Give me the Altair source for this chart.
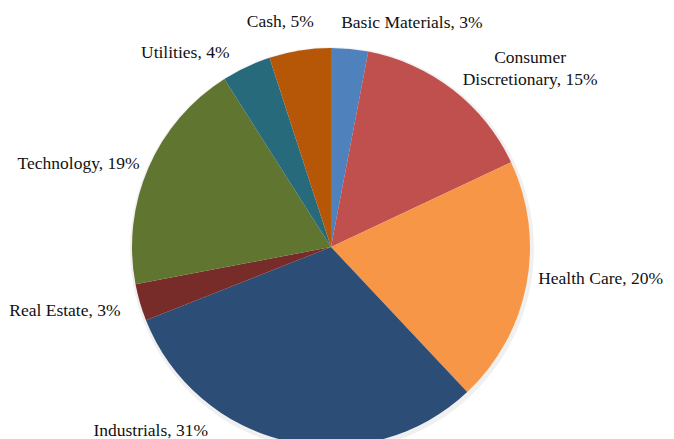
import altair as alt
import pandas as pd

categories = ["Basic Materials", "Consumer Discretionary", "Health Care", "Industrials",
              "Real Estate", "Technology", "Utilities", "Cash"]
values = [3, 15, 20, 31, 3, 19, 4, 5]
labels = ["Basic Materials, 3%", "Consumer\nDiscretionary, 15%", "Health Care, 20%",
          "Industrials, 31%", "Real Estate, 3%", "Technology, 19%", "Utilities, 4%", "Cash, 5%"]
colors = ["#4F81BD", "#C0504D", "#F79646", "#2C4D75", "#772C2A", "#5F7530", "#276A7C", "#B65708"]

df = pd.DataFrame({"cat": categories, "value": values, "label": labels,
                   "idx": list(range(len(categories)))})

CX, CY, R = 323, 239, 199
FONT = "Liberation Serif"

base = alt.Chart(df).encode(
    theta=alt.Theta("value:Q", stack=True),
    order=alt.Order("idx:Q"),
)

shadow = alt.Chart(df).mark_arc(radius=R + 3, color="#000000", opacity=0.06).encode(
    theta=alt.Theta("value:Q", stack=True),
    x=alt.value(CX + 1), y=alt.value(CY + 2),
)

pie = base.mark_arc(radius=R).encode(
    color=alt.Color("cat:N", scale=alt.Scale(domain=categories, range=colors), legend=None),
    x=alt.value(CX), y=alt.value(CY),
)

# label placement: (align, radius, dx, dy)
place = {
    "Basic Materials": ("left", 225, -11, 0),
    "Consumer Discretionary": ("center", 240, 52, 1),
    "Health Care": ("left", 215, -4, -8),
    "Industrials": ("right", 215, -76, -26),
    "Real Estate": ("right", 215, -4, 4),
    "Technology": ("right", 215, 6, 2),
    "Utilities": ("right", 215, -10, 1),
    "Cash": ("right", 225, 18, -3),
}

layers = [shadow, pie]
for cat, (align, rad, dx, dy) in place.items():
    layers.append(
        base.mark_text(radius=rad, align=align, baseline="middle", dx=dx, dy=dy,
                       font=FONT, fontSize=17.5, color="#111111", lineBreak="\n",
                       lineHeight=22).encode(
            text=alt.condition(alt.datum.cat == cat, alt.Text("label:N"), alt.value("")),
            x=alt.value(CX), y=alt.value(CY),
        )
    )

chart = alt.layer(*layers).properties(
    width=658, height=431, padding=0, autosize=alt.AutoSizeParams(type="none")
).configure_view(stroke=None)

chart.save("out.html", embed_options={"renderer": "svg", "actions": False})
